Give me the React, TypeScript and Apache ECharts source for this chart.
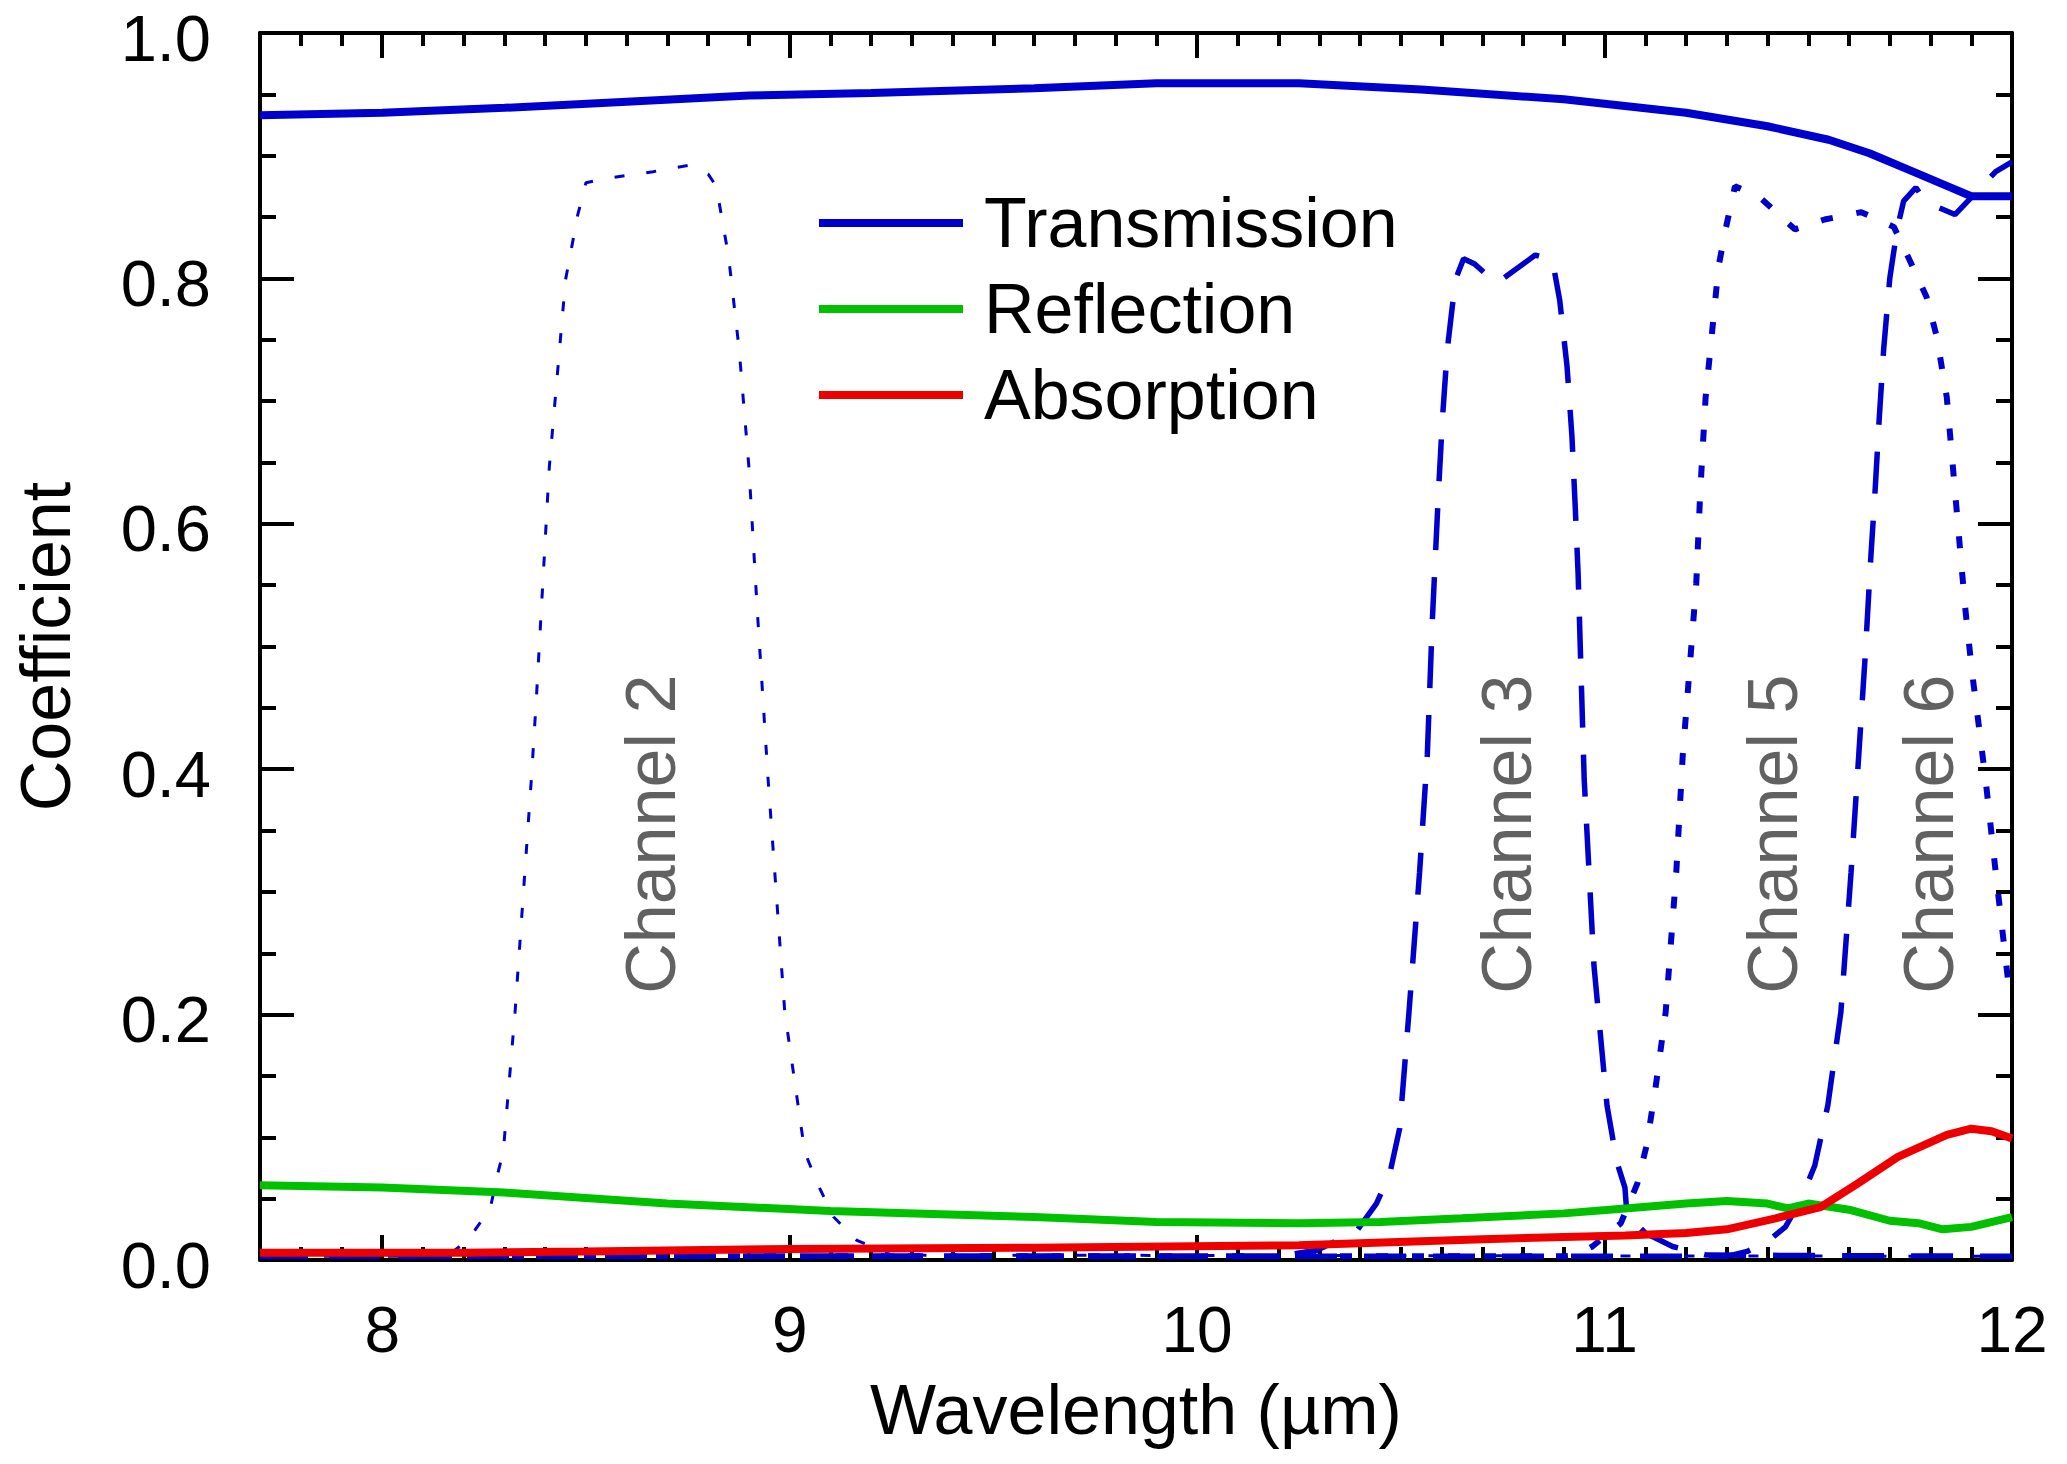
import * as echarts from "echarts";
import React, { useEffect, useRef } from "react";

// Transmission / reflection / absorption of the filter (wavelength in µm)
const transWl = [7.7, 8.0, 8.3, 8.6, 8.9, 9.2, 9.6, 9.9, 10.25, 10.55, 10.9, 11.2, 11.4, 11.55, 11.65, 11.75, 11.85, 11.9, 12.0];
const transVal = [0.933, 0.935, 0.939, 0.944, 0.949, 0.951, 0.955, 0.959, 0.959, 0.954, 0.946, 0.935, 0.924, 0.913, 0.902, 0.888, 0.874, 0.867, 0.867];

const reflWl = [7.7, 8.0, 8.3, 8.7, 9.1, 9.6, 9.9, 10.25, 10.45, 10.65, 10.9, 11.05, 11.2, 11.3, 11.4, 11.45, 11.5, 11.6, 11.7, 11.77, 11.83, 11.9, 12.0];
const reflVal = [0.061, 0.059, 0.055, 0.046, 0.04, 0.035, 0.031, 0.03, 0.031, 0.034, 0.038, 0.042, 0.046, 0.048, 0.046, 0.042, 0.046, 0.041, 0.032, 0.03, 0.025, 0.027, 0.035];

const absWl = [7.7, 8.2, 8.5, 9.0, 9.6, 10.25, 10.7, 11.05, 11.2, 11.3, 11.42, 11.53, 11.62, 11.72, 11.78, 11.84, 11.9, 11.95, 12.0];
const absVal = [0.006, 0.006, 0.007, 0.009, 0.01, 0.012, 0.017, 0.02, 0.022, 0.025, 0.034, 0.043, 0.062, 0.084, 0.093, 0.102, 0.107, 0.105, 0.099];

// Channel spectral responses
const ch2Wl = [7.7, 8.1, 8.17, 8.21, 8.265, 8.284, 8.297, 8.326, 8.366, 8.378, 8.41, 8.45, 8.48, 8.5, 8.56, 8.665, 8.75, 8.8, 8.82, 8.85, 8.876, 8.9, 8.92, 8.947, 8.988, 9.037, 9.07, 9.108, 9.165, 9.25, 12.0];
const ch2Val = [0.003, 0.003, 0.006, 0.016, 0.042, 0.071, 0.088, 0.202, 0.392, 0.456, 0.646, 0.799, 0.852, 0.878, 0.882, 0.887, 0.892, 0.885, 0.875, 0.818, 0.742, 0.646, 0.532, 0.392, 0.202, 0.088, 0.061, 0.035, 0.016, 0.004, 0.003];

const ch3Wl = [7.7, 10.2, 10.294, 10.39, 10.44, 10.472, 10.497, 10.52, 10.546, 10.565, 10.577, 10.585, 10.593, 10.602, 10.614, 10.634, 10.654, 10.68, 10.735, 10.83, 10.872, 10.89, 10.908, 10.92, 10.928, 10.935, 10.94, 10.95, 10.974, 11.006, 11.03, 11.05, 11.055, 11.1, 11.167, 11.25, 12.0];
const ch3Val = [0.003, 0.003, 0.008, 0.023, 0.046, 0.069, 0.107, 0.202, 0.316, 0.412, 0.519, 0.575, 0.63, 0.685, 0.742, 0.799, 0.816, 0.812, 0.796, 0.819, 0.815, 0.782, 0.728, 0.671, 0.614, 0.56, 0.504, 0.392, 0.24, 0.126, 0.08, 0.059, 0.037, 0.022, 0.011, 0.004, 0.003];

const ch5Wl = [7.7, 10.9, 10.93, 10.97, 11.04, 11.05, 11.08, 11.103, 11.125, 11.15, 11.176, 11.192, 11.208, 11.225, 11.235, 11.248, 11.265, 11.28, 11.297, 11.32, 11.378, 11.467, 11.54, 11.63, 11.71, 11.75, 11.79, 11.815, 11.84, 11.855, 11.87, 11.885, 11.902, 11.935, 11.96, 11.99, 12.0];
const ch5Val = [0.003, 0.003, 0.004, 0.011, 0.03, 0.038, 0.062, 0.093, 0.14, 0.202, 0.316, 0.412, 0.479, 0.551, 0.627, 0.703, 0.76, 0.81, 0.84, 0.875, 0.867, 0.84, 0.848, 0.854, 0.842, 0.814, 0.785, 0.753, 0.703, 0.646, 0.589, 0.532, 0.479, 0.392, 0.316, 0.229, 0.22];

const ch6Wl = [7.7, 11.3, 11.35, 11.4, 11.444, 11.483, 11.516, 11.548, 11.58, 11.605, 11.624, 11.64, 11.653, 11.664, 11.674, 11.685, 11.7, 11.718, 11.734, 11.764, 11.79, 11.86, 11.96, 12.0];
const ch6Val = [0.003, 0.003, 0.007, 0.015, 0.027, 0.05, 0.077, 0.126, 0.202, 0.316, 0.412, 0.494, 0.57, 0.627, 0.685, 0.742, 0.8, 0.84, 0.863, 0.874, 0.862, 0.852, 0.887, 0.895];

const channelNames = ["Channel 2", "Channel 3", "Channel 5", "Channel 6"];
const channelLabelWl = [8.66, 10.76, 11.414, 11.797];
const channelLabelVal = [0.347, 0.347, 0.347, 0.347];

const BLUE = "#0000CC";
const GREEN = "#00C000";
const RED = "#EE0000";
const FONT = "Liberation Sans, Arial, Helvetica, sans-serif";

const pairs = (xs: number[], ys: number[]) => xs.map((x, i) => [x, ys[i]]);

const App: React.FC = () => {
  const chartRef = useRef<HTMLDivElement | null>(null);

  useEffect(() => {
    document.body.style.margin = "0";
    if (!chartRef.current) return;
    const chart = echarts.init(chartRef.current, undefined, { renderer: "svg" });

    const line = (name: string, xs: number[], ys: number[], color: string, width: number, dash?: number[]) => ({
      name,
      type: "line",
      data: pairs(xs, ys),
      showSymbol: false,
      symbol: "none",
      silent: true,
      lineStyle: { color, width, type: dash ?? "solid", cap: "butt" },
      itemStyle: { color },
    });

    const majorX = (position: "top" | "bottom", labels: boolean) => ({
      type: "value",
      position,
      min: 7.7,
      max: 12,
      splitNumber: 4,
      axisLine: { show: true, onZero: false, lineStyle: { color: "#000", width: 4 } },
      axisTick: { show: true, inside: true, length: 25, lineStyle: { color: "#000", width: 4 } },
      axisLabel: {
        show: labels,
        margin: 38,
        color: "#000",
        fontSize: 64,
        fontFamily: FONT,
        formatter: (v: number) => (Math.abs(v - Math.round(v)) < 1e-6 ? String(Math.round(v)) : ""),
      },
      splitLine: { show: false },
      name: labels ? "Wavelength (µm)" : "",
      nameLocation: "middle",
      nameGap: 115,
      nameTextStyle: { color: "#000", fontSize: 70, fontFamily: FONT },
    });

    const minorX = (position: "top" | "bottom") => ({
      type: "value",
      position,
      min: 7.7,
      max: 12,
      interval: 0.1,
      axisLine: { show: false, onZero: false },
      axisTick: { show: true, inside: true, length: 13, lineStyle: { color: "#000", width: 4 } },
      axisLabel: { show: false },
      splitLine: { show: false },
    });

    const yAxis = (position: "left" | "right", labels: boolean) => ({
      type: "value",
      position,
      min: 0,
      max: 1,
      interval: 0.2,
      axisLine: { show: true, onZero: false, lineStyle: { color: "#000", width: 4 } },
      axisTick: { show: true, inside: true, length: 34, lineStyle: { color: "#000", width: 4 } },
      minorTick: { show: true, splitNumber: 4, length: 16, lineStyle: { color: "#000", width: 4 } },
      axisLabel: {
        show: labels,
        margin: 49,
        color: "#000",
        fontSize: 65,
        verticalAlign: "top",
        lineHeight: 10,
        fontFamily: FONT,
        formatter: (v: number) => v.toFixed(1),
      },
      splitLine: { show: false },
      name: labels ? "Coefficient" : "",
      nameLocation: "middle",
      nameRotate: 90,
      nameGap: 179,
      nameTextStyle: { color: "#000", fontSize: 70, fontFamily: FONT },
    });

    const option: any = {
      animation: false,
      backgroundColor: "#fff",
      grid: { left: 260, right: 55, top: 33, bottom: 204, containLabel: false },
      legend: {
        data: ["Transmission", "Reflection", "Absorption"],
        orient: "vertical",
        left: 814,
        top: 175,
        icon: "rect",
        itemWidth: 144,
        itemHeight: 8,
        itemGap: 0,
        selectedMode: false,
        textStyle: {
          color: "#000",
          fontSize: 70,
          fontFamily: FONT,
          lineHeight: 86,
          padding: [0, 0, 0, 16],
        },
      },
      xAxis: [majorX("bottom", true), minorX("bottom"), majorX("top", false), minorX("top")],
      yAxis: [yAxis("left", true), yAxis("right", false)],
      series: [
        line("Ch2", ch2Wl, ch2Val, BLUE, 3, [10, 22]),
        line("Ch3", ch3Wl, ch3Val, BLUE, 5.5, [42, 27]),
        line("Ch5", ch5Wl, ch5Val, BLUE, 6, [12, 24]),
        line("Ch6", ch6Wl, ch6Val, BLUE, 5.5, [42, 27]),
        line("Reflection", reflWl, reflVal, GREEN, 8),
        line("Absorption", absWl, absVal, RED, 8),
        line("Transmission", transWl, transVal, BLUE, 8),
        {
          name: "labels",
          type: "scatter",
          silent: true,
          symbolSize: 1,
          itemStyle: { color: "rgba(0,0,0,0)" },
          data: channelNames.map((n, i) => ({ name: n, value: [channelLabelWl[i], channelLabelVal[i]] })),
          label: {
            show: true,
            position: "inside",
            rotate: 90,
            formatter: (p: any) => p.name,
            color: "#3a3a3a",
            fontSize: 70,
            fontFamily: FONT,
          },
          z: 10,
        },
      ],
    };

    chart.setOption(option);

    const handleResize = () => chart.resize();
    window.addEventListener("resize", handleResize);
    return () => {
      window.removeEventListener("resize", handleResize);
      chart.dispose();
    };
  }, []);

  return <div ref={chartRef} style={{ width: "2067px", height: "1464px" }} />;
};

export default App;
